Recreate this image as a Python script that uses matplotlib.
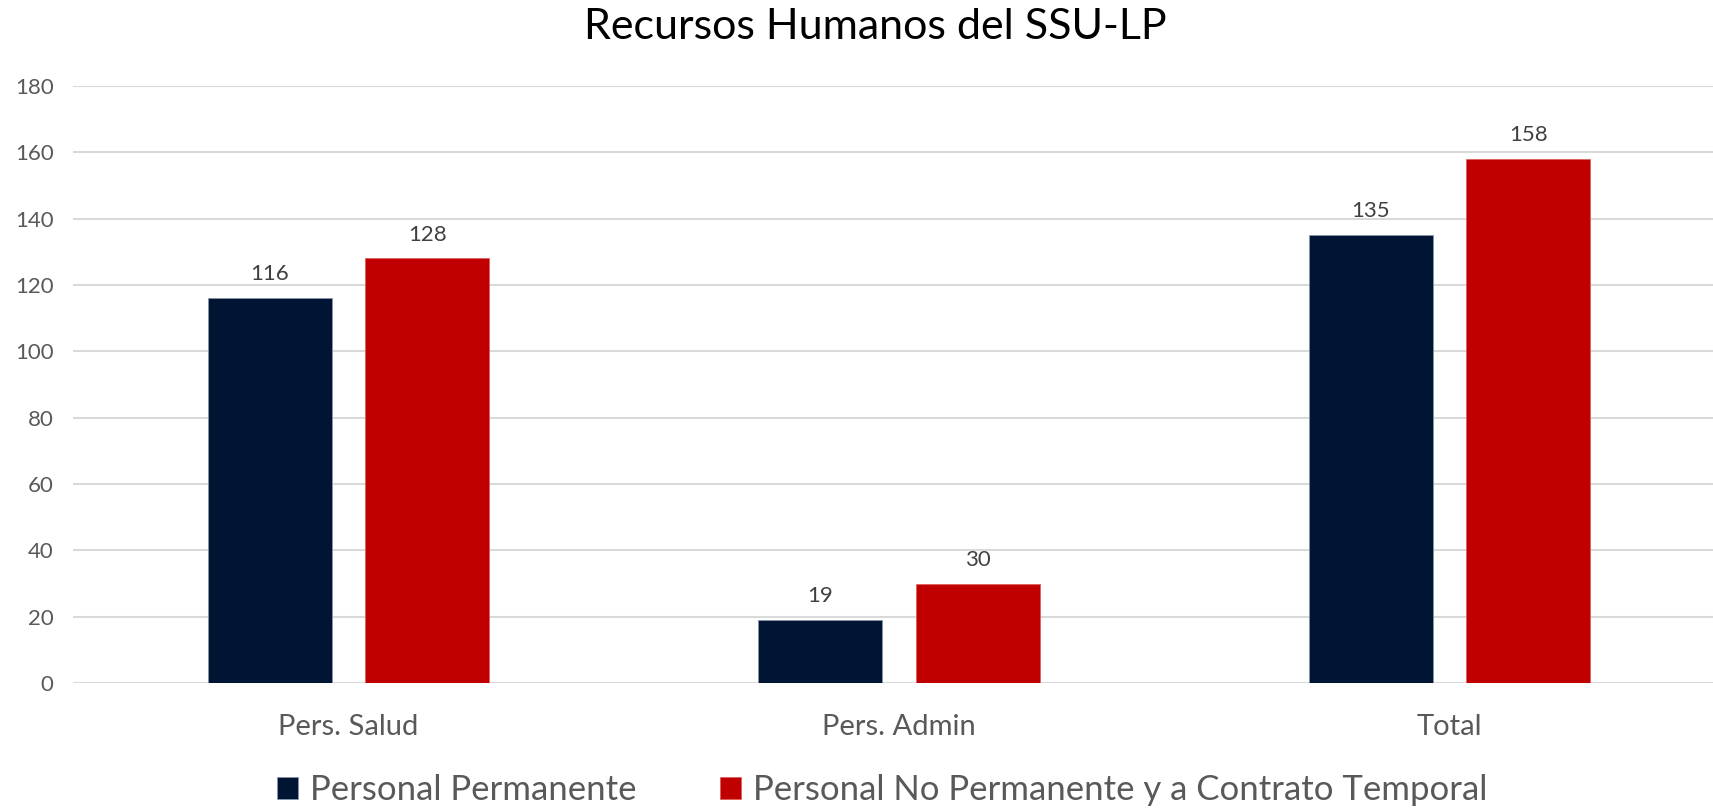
import matplotlib.pyplot as plt
import numpy as np

categories = ["Pers. Salud", "Pers. Admin", "Total"]
permanente = [116, 19, 135]
no_permanente = [128, 30, 158]
series_names = ["Personal Permanente", "Personal No Permanente y a Contrato Temporal"]

plt.rcParams["font.family"] = ["Lato", "DejaVu Sans"]
gray = "#595959"

fig = plt.figure(figsize=(17.13, 8.08), dpi=100)
W, H = 1713, 808
ax = fig.add_axes([73 / W, 1 - 683 / H, (1713 - 73) / W, (683 - 86) / H])

x = np.arange(len(categories))
w = 0.225
b1 = ax.bar(x - 0.143, permanente, w, color="#001433", edgecolor="#8a94a8", linewidth=0.6,
            label=series_names[0], zorder=3)
b2 = ax.bar(x + 0.143, no_permanente, w, color="#C00000", edgecolor="#e06060", linewidth=0.6,
            label=series_names[1], zorder=3)
ax.bar_label(b1, padding=10, fontsize=16, color="#404040")
ax.bar_label(b2, padding=10, fontsize=16, color="#404040")

ax.set_xlim(-0.5005, 2.4787)
ax.set_ylim(0, 180)
ax.set_yticks(range(0, 181, 20))
ax.set_xticks(x)
ax.set_xticklabels(categories, fontsize=21, color=gray)
ax.tick_params(axis="y", labelsize=16, labelcolor=gray, length=0, pad=14)
ax.tick_params(axis="x", length=0, pad=22)
ax.grid(axis="y", color="#D9D9D9", linewidth=1.5, zorder=0)
for s in ax.spines.values():
    s.set_visible(False)

fig.suptitle("Recursos Humanos del SSU-LP", fontsize=31, x=0.511, y=0.99, color="black")

fig.legend(handles=[b1, b2], loc="lower center", bbox_to_anchor=(0.515, -0.036), ncol=2,
           frameon=False, fontsize=25, labelcolor=gray, handlelength=0.6, handleheight=0.6,
           handletextpad=0.35, columnspacing=2.4)

fig.savefig("out.png", dpi=100)
